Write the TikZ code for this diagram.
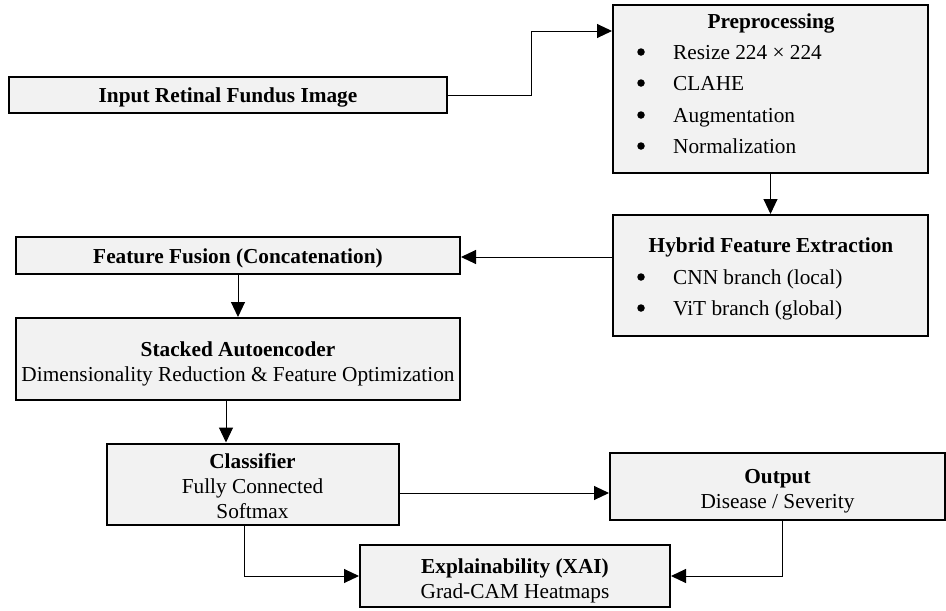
\documentclass[tikz,border=0pt]{standalone}
\usepackage{fontspec}
\setmainfont{Liberation Serif}
\usetikzlibrary{arrows.meta}
\definecolor{boxfill}{HTML}{F2F2F2}
\begin{document}
\begin{tikzpicture}[x=1pt,y=-1pt,
  box/.style={draw=black, line width=2pt, fill=boxfill, inner sep=0pt},
  lbl/.style={inner sep=0pt, align=center, font=\fontsize{21.3}{25}\selectfont},
  item/.style={lbl, anchor=base west},
  bul/.style={circle, fill=black, inner sep=0pt, minimum size=7.5pt},
  conn/.style={line width=1pt},
  arr/.style={conn, -{Triangle[length=15pt,width=14pt]}}]
\useasboundingbox (0,0) rectangle (946,611);

% boxes
\node[box, minimum width=438pt, minimum height=36pt] (input) at (228,95) {};
\node[box, minimum width=315pt, minimum height=168pt] (pre) at (770.5,89) {};
\node[box, minimum width=315pt, minimum height=121pt] (hyb) at (770.5,275.5) {};
\node[box, minimum width=444pt, minimum height=37pt] (fus) at (238,255.5) {};
\node[box, minimum width=444pt, minimum height=82pt] (sae) at (238,359) {};
\node[box, minimum width=292pt, minimum height=81pt] (cls) at (252.5,484) {};
\node[box, minimum width=335pt, minimum height=67pt] (out) at (777.5,486.5) {};
\node[box, minimum width=310pt, minimum height=62pt] (xai) at (515,576) {};

% box texts
\node[lbl] (inputt) at (228,97) {\textbf{Input Retinal Fundus Image}};
\node[lbl] (fust) at (238,258.5) {\textbf{Feature Fusion (Concatenation)}};
\node[lbl] (saet) at (238,364) {\textbf{Stacked Autoencoder}\\Dimensionality Reduction \& Feature Optimization};
\node[lbl] (clst) at (252.5,486) {\textbf{Classifier}\\Fully Connected\\Softmax};
\node[lbl] (outt) at (777.5,491.5) {\textbf{Output}\\Disease / Severity};
\node[lbl] (xait) at (515,581) {\textbf{Explainability (XAI)}\\Grad-CAM Heatmaps};

% preprocessing contents
\node[lbl, anchor=base] (pret) at (771,28) {\textbf{Preprocessing}};
\node[bul] (pb1) at (641,52) {};
\node[item] (pt1) at (673,59) {Resize 224 × 224};
\node[bul] (pb2) at (641,83) {};
\node[item] (pt2) at (673,90) {CLAHE};
\node[bul] (pb3) at (641,115) {};
\node[item] (pt3) at (673,122) {Augmentation};
\node[bul] (pb4) at (641,146) {};
\node[item] (pt4) at (673,153) {Normalization};

% hybrid contents
\node[lbl, anchor=base] (hybt) at (771,252) {\textbf{Hybrid Feature Extraction}};
\node[bul] (hb1) at (641,277) {};
\node[item] (ht1) at (673,284) {CNN branch (local)};
\node[bul] (hb2) at (641,308) {};
\node[item] (ht2) at (673,315) {ViT branch (global)};

% connectors
\coordinate (k1) at (531,31);
\draw[arr] (input.east) -| (k1) -- (k1 -| pre.west);
\draw[arr] (pre.south) -- (hyb.north);
\coordinate (k2) at (0,257);
\draw[arr] (hyb.west |- k2) -- (fus.east |- k2);
\draw[arr] (fus.south) -- (sae.north);
\coordinate (k3) at (226,0);
\draw[arr] (sae.south -| k3) -- (cls.north -| k3);
\coordinate (k4) at (0,493);
\draw[arr] (cls.east |- k4) -- (out.west |- k4);
\coordinate (k5) at (244,0);
\draw[arr] (cls.south -| k5) |- (xai.west);
\coordinate (k6) at (782,0);
\draw[arr] (out.south -| k6) |- (xai.east);
\end{tikzpicture}
\end{document}
